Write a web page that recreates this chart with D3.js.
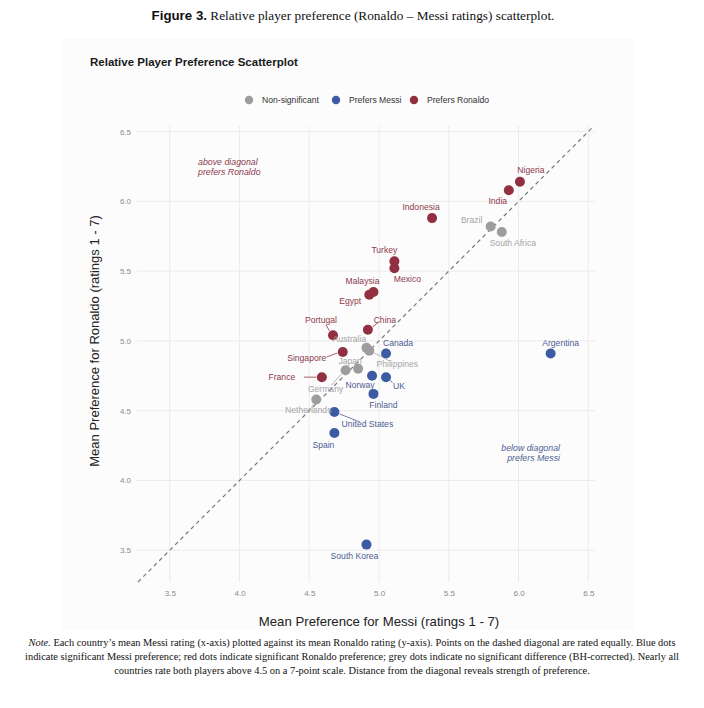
<!DOCTYPE html>
<html>
<head>
<meta charset="utf-8">
<script src="https://cdn.jsdelivr.net/npm/d3@7"></script>
<style>
  body { margin: 0; background: #fff; }
  svg { display: block; }
</style>
</head>
<body>
<svg id="chart" width="704" height="708"></svg>
<script>
// data
const countries = ["Nigeria", "India", "Indonesia", "Brazil", "South Africa", "Turkey", "Mexico",
  "Malaysia", "Egypt", "China", "Portugal", "Australia", "Philippines", "Canada", "Singapore",
  "Japan", "Germany", "Norway", "UK", "France", "Finland", "Netherlands", "United States",
  "Spain", "Argentina", "South Korea"]
const messi = [6.01, 5.93, 5.38, 5.80, 5.88, 5.11, 5.11, 4.96, 4.93, 4.92, 4.67, 4.91, 4.93,
  5.05, 4.74, 4.85, 4.76, 4.95, 5.05, 4.59, 4.96, 4.55, 4.68, 4.68, 6.23, 4.91]
const ronaldo = [6.14, 6.08, 5.88, 5.82, 5.78, 5.57, 5.52, 5.35, 5.33, 5.08, 5.04, 4.95, 4.93,
  4.91, 4.92, 4.80, 4.79, 4.75, 4.74, 4.74, 4.62, 4.58, 4.49, 4.34, 4.91, 3.54]
const groups = ["R", "R", "R", "N", "N", "R", "R", "R", "R", "R", "R", "N", "N",
  "M", "R", "N", "N", "M", "M", "R", "M", "N", "M", "M", "M", "M"]
const legendLabels = ["Non-significant", "Prefers Messi", "Prefers Ronaldo"]
const xTicks = [3.5, 4.0, 4.5, 5.0, 5.5, 6.0, 6.5]
const yTicks = [3.5, 4.0, 4.5, 5.0, 5.5, 6.0, 6.5]

// styling / label placement (pixels, not data)
const dotColor = { N: "#9d9d9d", M: "#3d5ba3", R: "#922f40" }
const textColor = { N: "#a5a5a5", M: "#4d5d90", R: "#8d3a4b" }
// [dx, dy, leader]
const labelPos = {
  "Nigeria": [11, -9], "India": [-11, 14], "Indonesia": [-11, -8],
  "Brazil": [-19, -3], "South Africa": [11, 14], "Turkey": [-10, -8],
  "Mexico": [13, 14], "Malaysia": [-11, -8], "Egypt": [-19, 9],
  "China": [17, -7, true], "Portugal": [-12, -12, true],
  "Australia": [-17, -6], "Philippines": [28, 16, true],
  "Canada": [12, -7], "Singapore": [-36, 9, true],
  "Japan": [-8, -5, true], "Germany": [-20, 22, true],
  "Norway": [-12, 12], "UK": [13, 12, true],
  "France": [-40, 3, true], "Finland": [10, 14],
  "Netherlands": [-8, 14, true], "United States": [33, 15, true],
  "Spain": [-11, 15], "Argentina": [10, -7], "South Korea": [-12, 14]
}

const svg = d3.select("#chart")
const sans = "'Liberation Sans', Arial, Helvetica, sans-serif"
const serif = "'Liberation Serif', 'Times New Roman', serif"

// figure caption
const cap = svg.append("text").attr("x", 353).attr("y", 20).attr("text-anchor", "middle")
  .style("font-size", "13.3px").attr("fill", "#111")
cap.append("tspan").style("font-family", sans).style("font-weight", "bold").text("Figure 3.")
cap.append("tspan").style("font-family", serif)
  .text(" Relative player preference (Ronaldo \u2013 Messi ratings) scatterplot.")

// faint plot card background
svg.append("rect").attr("x", 62).attr("y", 38).attr("width", 572).attr("height", 592)
  .attr("fill", "#fcfcfd")

svg.append("text").attr("x", 90).attr("y", 66)
  .style("font-family", sans).style("font-size", "11.5px").style("font-weight", "bold")
  .attr("fill", "#1a1a1a").text("Relative Player Preference Scatterplot")

// legend
const legX = [249, 336, 414]
const legKeys = ["N", "M", "R"]
legKeys.forEach((k, i) => {
  svg.append("circle").attr("cx", legX[i]).attr("cy", 100).attr("r", 4.2).attr("fill", dotColor[k])
  svg.append("text").attr("x", legX[i] + 13).attr("y", 103)
    .style("font-family", sans).style("font-size", "8.6px").attr("fill", "#333").text(legendLabels[i])
})

const x = d3.scaleLinear().domain([3.265, 6.548]).range([137, 595])
const y = d3.scaleLinear().domain([3.272, 6.54]).range([582, 126])

// grid
const grid = svg.append("g")
grid.selectAll(".gx").data(xTicks).enter().append("line")
  .attr("x1", d => x(d)).attr("x2", d => x(d)).attr("y1", y.range()[1]).attr("y2", y.range()[0])
  .attr("stroke", "#ebebeb").attr("stroke-width", 1)
grid.selectAll(".gy").data(yTicks).enter().append("line")
  .attr("y1", d => y(d)).attr("y2", d => y(d)).attr("x1", x.range()[0]).attr("x2", x.range()[1])
  .attr("stroke", "#ebebeb").attr("stroke-width", 1)

// axes (labels only)
const xAxis = svg.append("g").attr("transform", "translate(0,586)")
  .call(d3.axisBottom(x).tickValues(xTicks).tickFormat(d3.format(".1f")).tickSize(0).tickPadding(4))
const yAxis = svg.append("g").attr("transform", "translate(134,0)")
  .call(d3.axisLeft(y).tickValues(yTicks).tickFormat(d3.format(".1f")).tickSize(0).tickPadding(3))
;[xAxis, yAxis].forEach(a => {
  a.select(".domain").remove()
  a.selectAll("text").style("font-family", sans).style("font-size", "8px").attr("fill", "#8a8a8a")
})

// diagonal y = x
const lo = Math.max(x.domain()[0], y.domain()[0]), hi = Math.min(x.domain()[1], y.domain()[1])
svg.append("line").attr("x1", x(lo)).attr("y1", y(lo)).attr("x2", x(hi)).attr("y2", y(hi))
  .attr("stroke", "#777").attr("stroke-width", 1.2).attr("stroke-dasharray", "4,3.5")

// annotations
svg.append("text").attr("x", 198).attr("y", 165).style("font-family", sans).style("font-size", "8.8px")
  .style("font-style", "italic").attr("fill", "#8d3a4b")
  .selectAll("tspan").data(["above diagonal", "prefers Ronaldo"]).enter().append("tspan")
  .attr("x", 198).attr("dy", (d, i) => i ? 10 : 0).text(d => d)
svg.append("text").attr("x", 560).attr("y", 451).style("font-family", sans).style("font-size", "8.8px")
  .style("font-style", "italic").attr("fill", "#4d5d90").attr("text-anchor", "end")
  .selectAll("tspan").data(["below diagonal", "prefers Messi"]).enter().append("tspan")
  .attr("x", 560).attr("dy", (d, i) => i ? 10 : 0).text(d => d)

const pts = countries.map((c, i) => ({ name: c, mx: messi[i], ry: ronaldo[i], g: groups[i] }))

// leader lines
svg.append("g").selectAll("line").data(pts.filter(d => labelPos[d.name][2])).enter().append("line")
  .each(function (d) {
    const [dx, dy] = labelPos[d.name]
    const px = x(d.mx), py = y(d.ry)
    const tx = px + dx, ty = py + dy - 3
    const len = Math.hypot(tx - px, ty - py)
    const ux = (tx - px) / len, uy = (ty - py) / len
    const endGap = d.name === "France" ? 22 : (d.name === "Singapore" ? 20 : 8)
    d3.select(this).attr("x1", px + ux * 5.5).attr("y1", py + uy * 5.5)
      .attr("x2", tx - ux * endGap).attr("y2", ty - uy * Math.min(endGap, 6))
  })
  .attr("stroke", d => textColor[d.g]).attr("stroke-width", 0.8)

// points
svg.append("g").selectAll("circle").data(pts).enter().append("circle")
  .attr("cx", d => x(d.mx)).attr("cy", d => y(d.ry)).attr("r", 5)
  .attr("fill", d => dotColor[d.g])

// point labels
svg.append("g").selectAll("text").data(pts).enter().append("text")
  .attr("x", d => x(d.mx) + labelPos[d.name][0]).attr("y", d => y(d.ry) + labelPos[d.name][1])
  .attr("text-anchor", "middle")
  .style("font-family", sans).style("font-size", "8.6px")
  .attr("fill", d => textColor[d.g]).text(d => d.name)

// axis titles
svg.append("text").attr("x", 379).attr("y", 626).attr("text-anchor", "middle")
  .style("font-family", sans).style("font-size", "13.2px").attr("fill", "#222")
  .text("Mean Preference for Messi (ratings 1 - 7)")
svg.append("text").attr("transform", "translate(99,341) rotate(-90)").attr("text-anchor", "middle")
  .style("font-family", sans).style("font-size", "13px").attr("fill", "#222")
  .text("Mean Preference for Ronaldo (ratings 1 - 7)")

// note
const note = svg.append("g").style("font-family", serif).style("font-size", "10.4px").attr("fill", "#111")
const n1 = note.append("text").attr("x", 352).attr("y", 646).attr("text-anchor", "middle")
n1.append("tspan").style("font-style", "italic").text("Note.")
n1.append("tspan").text(" Each country\u2019s mean Messi rating (x-axis) plotted against its mean Ronaldo rating (y-axis). Points on the dashed diagonal are rated equally. Blue dots")
note.append("text").attr("x", 352).attr("y", 660).attr("text-anchor", "middle")
  .text("indicate significant Messi preference; red dots indicate significant Ronaldo preference; grey dots indicate no significant difference (BH-corrected). Nearly all")
note.append("text").attr("x", 352).attr("y", 674).attr("text-anchor", "middle")
  .text("countries rate both players above 4.5 on a 7-point scale. Distance from the diagonal reveals strength of preference.")
</script>
</body>
</html>
